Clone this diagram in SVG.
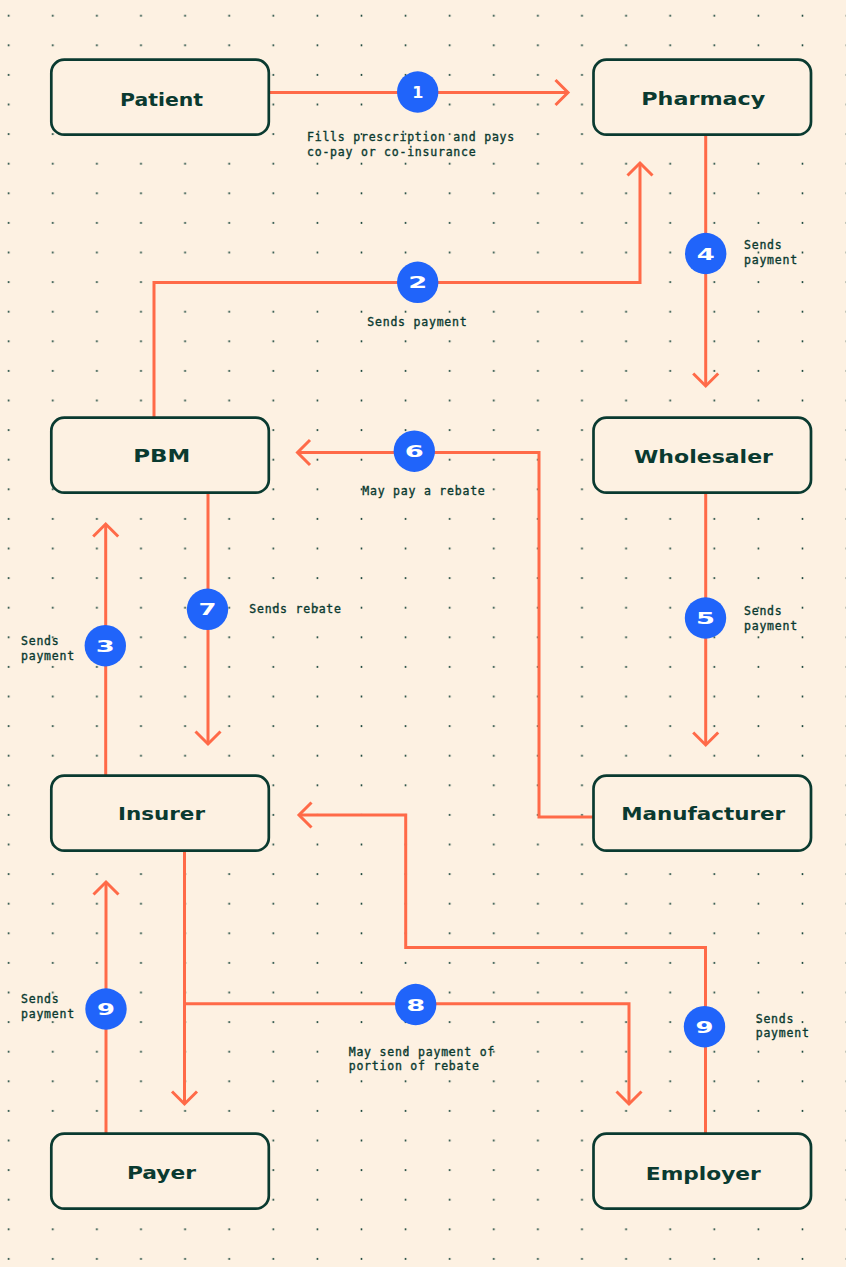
<svg xmlns="http://www.w3.org/2000/svg" width="846" height="1267" viewBox="0 0 846 1267">
<style>
.bg{fill:#FDF1E2}
.node rect{fill:#FDF1E2;stroke:#0A3A30;stroke-width:2.7}
.node text{font-family:"DejaVu Sans","Liberation Sans",sans-serif;font-weight:bold;font-size:17px;fill:#0A3A30;text-anchor:middle}
.conn{fill:none;stroke:#FF6A48;stroke-width:3}
.badge circle{fill:#2064FA}
.badge text{font-family:"DejaVu Sans","Liberation Sans",sans-serif;font-weight:bold;font-size:16px;fill:#FFFFFF;text-anchor:middle}
.lbl{font-family:"DejaVu Sans Mono","Liberation Mono",monospace;font-size:11.5px;letter-spacing:0.78px;fill:#0A3A30;stroke:#0A3A30;stroke-width:0.35px}
</style>
<defs>
<pattern id="dots" patternUnits="userSpaceOnUse" x="-13.35" y="0.9" width="44.1" height="29.6">
<circle cx="22.05" cy="14.8" r="0.95" fill="#0A3A30"/>
</pattern>
<marker id="arr" markerUnits="userSpaceOnUse" viewBox="-16 -16 20 32" refX="0" refY="0" markerWidth="20" markerHeight="32" orient="auto" overflow="visible">
<path d="M-12.5 -12.5 L0 0 L-12.5 12.5" fill="none" stroke="#FF6A48" stroke-width="3"/>
</marker>
</defs>
<rect class="bg" x="0" y="0" width="846" height="1267"/>
<rect x="0" y="0" width="846" height="1267" fill="url(#dots)"/>

<g id="connectors">
<path class="conn" d="M270 92.5 H568" marker-end="url(#arr)"/>
<path class="conn" d="M154 417.7 V282.5 H640 V163" marker-end="url(#arr)"/>
<path class="conn" d="M705.7 134.7 V386" marker-end="url(#arr)"/>
<path class="conn" d="M593.5 817 H539 V452.5 H297.5" marker-end="url(#arr)"/>
<path class="conn" d="M208 492.7 V744" marker-end="url(#arr)"/>
<path class="conn" d="M105.7 775.7 V524" marker-end="url(#arr)"/>
<path class="conn" d="M705.7 492.7 V745" marker-end="url(#arr)"/>
<path class="conn" d="M184.5 850.7 V1104" marker-end="url(#arr)"/>
<path class="conn" d="M184.5 1003.7 H629 V1104" marker-end="url(#arr)"/>
<path class="conn" d="M106 1133.7 V882" marker-end="url(#arr)"/>
<path class="conn" d="M705.5 1133.7 V947.5 H405.7 V815 H299" marker-end="url(#arr)"/>
</g>

<g id="badges">
<g class="badge"><circle cx="417.7" cy="92" r="20.7"/><text x="417.7" y="98">1</text></g>
<g class="badge"><circle cx="417.7" cy="282.3" r="20.7"/><text x="417.7" y="288.3" textLength="19" lengthAdjust="spacingAndGlyphs">2</text></g>
<g class="badge"><circle cx="105.3" cy="645.7" r="20.7"/><text x="105.3" y="651.7" textLength="19" lengthAdjust="spacingAndGlyphs">3</text></g>
<g class="badge"><circle cx="705.7" cy="253.5" r="20.7"/><text x="705.7" y="259.5" textLength="18" lengthAdjust="spacingAndGlyphs">4</text></g>
<g class="badge"><circle cx="705.5" cy="618" r="20.7"/><text x="705.5" y="624" textLength="19" lengthAdjust="spacingAndGlyphs">5</text></g>
<g class="badge"><circle cx="414.3" cy="451.2" r="20.7"/><text x="414.3" y="457.2" textLength="19" lengthAdjust="spacingAndGlyphs">6</text></g>
<g class="badge"><circle cx="207.5" cy="609.3" r="20.7"/><text x="207.5" y="615.3" textLength="18" lengthAdjust="spacingAndGlyphs">7</text></g>
<g class="badge"><circle cx="415.7" cy="1004.5" r="20.7"/><text x="415.7" y="1010.5" textLength="19" lengthAdjust="spacingAndGlyphs">8</text></g>
<g class="badge"><circle cx="106" cy="1009" r="20.7"/><text x="106" y="1015" textLength="18" lengthAdjust="spacingAndGlyphs">9</text></g>
<g class="badge"><circle cx="704.5" cy="1026.7" r="20.7"/><text x="704.5" y="1032.7" textLength="18" lengthAdjust="spacingAndGlyphs">9</text></g>
</g>

<g id="labels">
<text class="lbl" x="307" y="141">Fills prescription and pays</text>
<text class="lbl" x="307" y="155.5">co-pay or co-insurance</text>
<text class="lbl" x="367.3" y="326">Sends payment</text>
<text class="lbl" x="744" y="249.3">Sends</text>
<text class="lbl" x="744" y="263.5">payment</text>
<text class="lbl" x="362.3" y="494.5">May pay a rebate</text>
<text class="lbl" x="249.3" y="613">Sends rebate</text>
<text class="lbl" x="21" y="645.3">Sends</text>
<text class="lbl" x="21" y="659.7">payment</text>
<text class="lbl" x="744" y="615.3">Sends</text>
<text class="lbl" x="744" y="629.5">payment</text>
<text class="lbl" x="348.7" y="1056">May send payment of</text>
<text class="lbl" x="348.7" y="1070">portion of rebate</text>
<text class="lbl" x="21" y="1003.3">Sends</text>
<text class="lbl" x="21" y="1017.5">payment</text>
<text class="lbl" x="755.7" y="1023.3">Sends</text>
<text class="lbl" x="755.7" y="1037">payment</text>
</g>

<g id="patient" class="node"><rect x="51.3" y="59.7" width="217.5" height="75" rx="13"/><text x="161.5" y="105.5" textLength="83" lengthAdjust="spacingAndGlyphs">Patient</text></g>
<g id="pharmacy" class="node"><rect x="593.5" y="59.7" width="217.5" height="75" rx="13"/><text x="703.3" y="105" textLength="124" lengthAdjust="spacingAndGlyphs">Pharmacy</text></g>
<g id="pbm" class="node"><rect x="51.3" y="417.7" width="217.5" height="75" rx="13"/><text x="161.7" y="461.7" textLength="57" lengthAdjust="spacingAndGlyphs">PBM</text></g>
<g id="wholesaler" class="node"><rect x="593.5" y="417.7" width="217.5" height="75" rx="13"/><text x="703.5" y="462.5" textLength="139" lengthAdjust="spacingAndGlyphs">Wholesaler</text></g>
<g id="insurer" class="node"><rect x="51.3" y="775.7" width="217.5" height="75" rx="13"/><text x="161.5" y="820" textLength="87" lengthAdjust="spacingAndGlyphs">Insurer</text></g>
<g id="manufacturer" class="node"><rect x="593.5" y="775.7" width="217.5" height="75" rx="13"/><text x="703.2" y="820" textLength="164" lengthAdjust="spacingAndGlyphs">Manufacturer</text></g>
<g id="payer" class="node"><rect x="51.3" y="1133.7" width="217.5" height="75" rx="13"/><text x="161.5" y="1179" textLength="69" lengthAdjust="spacingAndGlyphs">Payer</text></g>
<g id="employer" class="node"><rect x="593.5" y="1133.7" width="217.5" height="75" rx="13"/><text x="703.3" y="1180" textLength="115" lengthAdjust="spacingAndGlyphs">Employer</text></g>
</svg>
